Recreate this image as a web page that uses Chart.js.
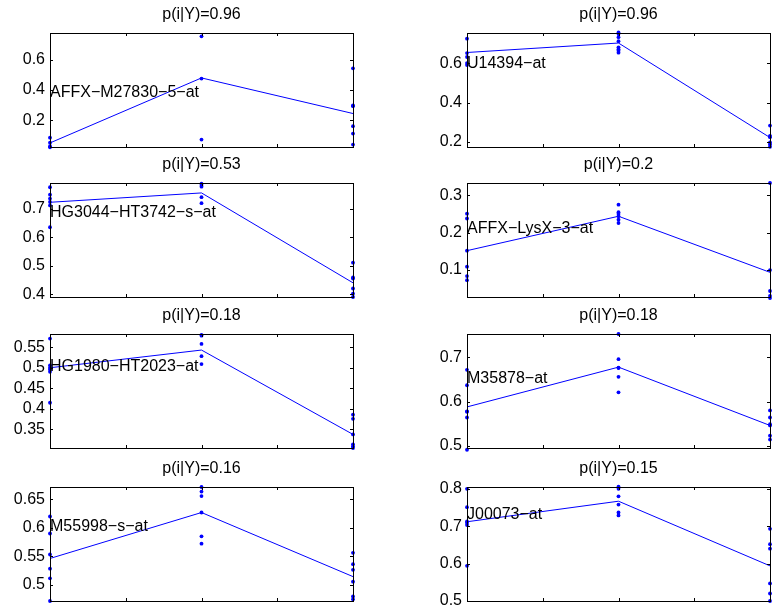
<!DOCTYPE html>
<html>
<head>
<meta charset="utf-8">
<script src="https://cdn.jsdelivr.net/npm/chart.js@4.4.1/dist/chart.umd.min.js"></script>
<style>
  html, body { margin: 0; padding: 0; background: #fff; }
  #wrap { position: relative; width: 777px; height: 612px; overflow: hidden; }
  #wrap canvas { position: absolute; }
</style>
</head>
<body>
<div id="wrap"></div>
<script>
// group positions on the x axis
const groups = [1, 2, 3];

const titles = ['p(i|Y)=0.96', 'p(i|Y)=0.96', 'p(i|Y)=0.53', 'p(i|Y)=0.2',
                'p(i|Y)=0.18', 'p(i|Y)=0.18', 'p(i|Y)=0.16', 'p(i|Y)=0.15'];
const genes = ['AFFX−M27830−5−at', 'U14394−at', 'HG3044−HT3742−s−at', 'AFFX−LysX−3−at',
               'HG1980−HT2023−at', 'M35878−at', 'M55998−s−at', 'J00073−at'];

// mean profile per gene (line)
const means = [
  [0.049, 0.480, 0.244],
  [0.654, 0.702, 0.222],
  [0.724, 0.757, 0.440],
  [0.152, 0.244, 0.094],
  [0.500, 0.543, 0.338],
  [0.588, 0.678, 0.546],
  [0.546, 0.627, 0.514],
  [0.712, 0.767, 0.594]
];

// samples in each group (dots)
const group1 = [
  [0.084, 0.051, 0.027, 0.020],
  [0.724, 0.651, 0.631, 0.600, 0.590],
  [0.777, 0.751, 0.737, 0.725, 0.713, 0.636],
  [0.251, 0.238, 0.152, 0.109, 0.084, 0.073],
  [0.571, 0.506, 0.500, 0.496, 0.490, 0.415],
  [0.672, 0.637, 0.578, 0.577, 0.564, 0.491],
  [0.620, 0.590, 0.553, 0.528, 0.511, 0.471],
  [0.800, 0.751, 0.713, 0.709, 0.703, 0.594]
];
const group2 = [
  [0.756, 0.476, 0.071],
  [0.756, 0.748, 0.732, 0.711, 0.680, 0.671, 0.663, 0.653],
  [0.790, 0.785, 0.779, 0.742, 0.721],
  [0.275, 0.255, 0.250, 0.244, 0.235, 0.226],
  [0.580, 0.578, 0.558, 0.528, 0.509],
  [0.753, 0.696, 0.677, 0.676, 0.656, 0.621],
  [0.672, 0.664, 0.656, 0.627, 0.585, 0.572],
  [0.806, 0.800, 0.780, 0.758, 0.737, 0.729]
];
const group3 = [
  [0.544, 0.298, 0.293, 0.160, 0.111, 0.038],
  [0.283, 0.231, 0.224, 0.197, 0.187, 0.175],
  [0.511, 0.459, 0.455, 0.420, 0.402, 0.390],
  [0.333, 0.100, 0.044, 0.031, 0.025],
  [0.386, 0.376, 0.338, 0.314, 0.309, 0.305],
  [0.580, 0.564, 0.549, 0.546, 0.523, 0.514],
  [0.556, 0.536, 0.526, 0.505, 0.479, 0.474],
  [0.693, 0.652, 0.640, 0.547, 0.520, 0.500]
];

// axis limits and tick labels
const yMin = [0.022, 0.174, 0.390, 0.028, 0.305, 0.495, 0.471, 0.500];
const yMax = [0.778, 0.753, 0.792, 0.333, 0.582, 0.753, 0.672, 0.805];
const yTicks = [
  [0.2, 0.4, 0.6],
  [0.2, 0.4, 0.6],
  [0.4, 0.5, 0.6, 0.7],
  [0.1, 0.2, 0.3],
  [0.35, 0.4, 0.45, 0.5, 0.55],
  [0.5, 0.6, 0.7],
  [0.5, 0.55, 0.6, 0.65],
  [0.5, 0.6, 0.7, 0.8]
];
const xTicks = [1.5, 2, 2.5];
// height of the gene name, in data units, at x = 1
const labelY = [0.382, 0.600, 0.688, 0.210, 0.504, 0.651, 0.602, 0.732];

const FONT = '"Liberation Sans", Arial, Helvetica, sans-serif';
const BLUE = '#0000ff';
const colLeft = [50, 467];
const rowTop = [33, 183, 334, 487];
const boxW = 303, boxH = 114;
const padBottom = 20;

// box, inward ticks, title and gene name, MATLAB style
const frame = {
  id: 'frame',
  afterDraw(chart, args, opts) {
    const { ctx, chartArea: a, scales } = chart;
    const i = opts.idx;
    ctx.save();
    ctx.strokeStyle = '#000';
    ctx.lineWidth = 1;
    ctx.strokeRect(Math.round(a.left) + 0.5, Math.round(a.top) + 0.5,
                   Math.round(a.right - a.left), Math.round(a.bottom - a.top));
    const tl = 3;
    ctx.beginPath();
    xTicks.forEach(v => {
      const px = Math.round(scales.x.getPixelForValue(v)) + 0.5;
      ctx.moveTo(px, a.top); ctx.lineTo(px, a.top + tl);
      ctx.moveTo(px, a.bottom); ctx.lineTo(px, a.bottom - tl);
    });
    yTicks[i].forEach(v => {
      const py = Math.round(scales.y.getPixelForValue(v)) + 0.5;
      ctx.moveTo(a.left, py); ctx.lineTo(a.left + tl, py);
      ctx.moveTo(a.right, py); ctx.lineTo(a.right - tl, py);
    });
    ctx.stroke();

    ctx.fillStyle = '#000';
    ctx.font = '16px ' + FONT;
    ctx.textAlign = 'center';
    ctx.textBaseline = 'middle';
    ctx.fillText(titles[i], (a.left + a.right) / 2, a.top - 18);

    ctx.textAlign = 'left';
    ctx.fillText(genes[i], scales.x.getPixelForValue(1), scales.y.getPixelForValue(labelY[i]));
    ctx.restore();
  }
};

const wrap = document.getElementById('wrap');

titles.forEach((t, i) => {
  const col = i % 2, row = Math.floor(i / 2);
  const c = document.createElement('canvas');
  c.width = boxW + 58;
  c.height = boxH + 33 + padBottom;
  c.style.left = (colLeft[col] - 50) + 'px';
  c.style.top = (rowTop[row] - 33) + 'px';
  wrap.appendChild(c);

  const pts = [];
  [group1[i], group2[i], group3[i]].forEach((g, j) => {
    g.forEach(v => pts.push({ x: groups[j], y: v }));
  });

  new Chart(c, {
    type: 'scatter',
    data: {
      datasets: [{
        type: 'line',
        data: groups.map((g, j) => ({ x: g, y: means[i][j] })),
        borderColor: BLUE,
        borderWidth: 1,
        pointRadius: 0,
        fill: false,
        tension: 0
      }, {
        data: pts,
        backgroundColor: BLUE,
        borderColor: BLUE,
        borderWidth: 0,
        pointRadius: 1.9,
        clip: false
      }]
    },
    options: {
      responsive: false,
      animation: false,
      devicePixelRatio: 1,
      layout: { padding: { top: 33, right: 8, bottom: padBottom, left: 0 } },
      plugins: {
        legend: { display: false },
        tooltip: { enabled: false },
        frame: { idx: i }
      },
      scales: {
        x: { type: 'linear', min: 1, max: 3, display: false },
        y: {
          min: yMin[i],
          max: yMax[i],
          afterFit: s => { s.width = 50; },
          afterBuildTicks: s => { s.ticks = yTicks[i].map(v => ({ value: v })); },
          ticks: {
            color: '#000',
            padding: 5,
            font: { family: FONT, size: 16 },
            callback: v => String(v)
          },
          grid: { drawOnChartArea: false, drawTicks: false },
          border: { display: false }
        }
      }
    },
    plugins: [frame]
  });
});
</script>
</body>
</html>
